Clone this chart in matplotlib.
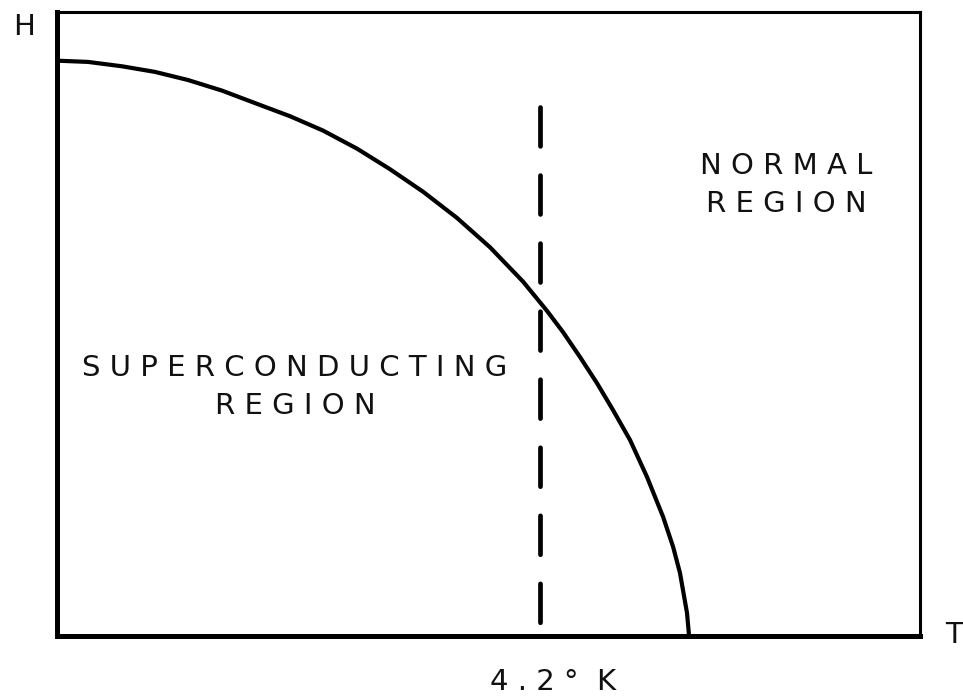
import matplotlib
matplotlib.use("Agg")
import matplotlib.pyplot as plt

# ---------- DATA ----------
# critical field curve: T in kelvin, H in arbitrary units
temp_k = [0.0, 0.270, 0.565, 0.852, 1.139, 1.435, 1.722, 2.026, 2.313,
          2.609, 2.896, 3.183, 3.478, 3.765, 4.052, 4.261, 4.400, 4.548,
          4.696, 4.835, 4.983, 5.130, 5.270, 5.357, 5.417, 5.478, 5.496]
field_h = [0.922, 0.920, 0.913, 0.904, 0.891, 0.874, 0.854, 0.833, 0.810,
           0.781, 0.748, 0.712, 0.670, 0.623, 0.568, 0.521, 0.487, 0.447,
           0.405, 0.362, 0.314, 0.255, 0.191, 0.143, 0.101, 0.037, 0.0]

helium_temp = 4.2        # dashed line position
helium_line_top = 0.848  # where the dashed line stops
t_max = 7.504
h_max = 1.0

region_labels = ["S U P E R C O N D U C T I N G\nR E G I O N",
                 "N O R M A L\nR E G I O N"]
# --------------------------------------------------

W, H = 963, 698
fig = plt.figure(figsize=(W / 100, H / 100), dpi=100)
fig.patch.set_facecolor("white")

# axes box in pixels: left 57, right 920, top 12, bottom 636
ax = fig.add_axes([57 / W, 1 - 636 / H, (920 - 57) / W, (636 - 12) / H])
ax.set_xlim(0, t_max)
ax.set_ylim(0, h_max)
ax.set_xticks([])
ax.set_yticks([])

for side in ["left", "bottom"]:
    ax.spines[side].set_linewidth(3.6)
for side in ["top", "right"]:
    ax.spines[side].set_linewidth(2.2)
for sp in ax.spines.values():
    sp.set_color("black")
    sp.set_capstyle("projecting")

# phase boundary
ax.plot(temp_k, field_h, color="black", linewidth=3.0,
        solid_joinstyle="round", solid_capstyle="butt", clip_on=False)

# 4.2 K dashed line, drawn top-down so the pattern starts at the top
plt.rcParams["lines.scale_dashes"] = False
ax.plot([helium_temp, helium_temp], [helium_line_top, 0], color="black",
        linewidth=3.4, dashes=(28, 21), dash_capstyle="round")

fs = 21
txt_col = "#111111"
# region labels (pixel centres converted to figure fractions)
fig.text(295 / W, 1 - 387 / H, region_labels[0], ha="center", va="center",
         fontsize=fs, linespacing=1.5, color=txt_col)
fig.text(786 / W, 1 - 185 / H, region_labels[1], ha="center", va="center",
         fontsize=fs, linespacing=1.5, color=txt_col)

# axis letters
fig.text(24 / W, 1 - 27 / H, "H", ha="center", va="center", fontsize=fs, color=txt_col)
fig.text(954 / W, 1 - 635 / H, "T", ha="center", va="center", fontsize=fs, color=txt_col)
fig.text(553 / W, 1 - 682 / H, "4 . 2 °  K", ha="center", va="center",
         fontsize=fs, color=txt_col)

fig.savefig("out.png", dpi=100, facecolor="white")
